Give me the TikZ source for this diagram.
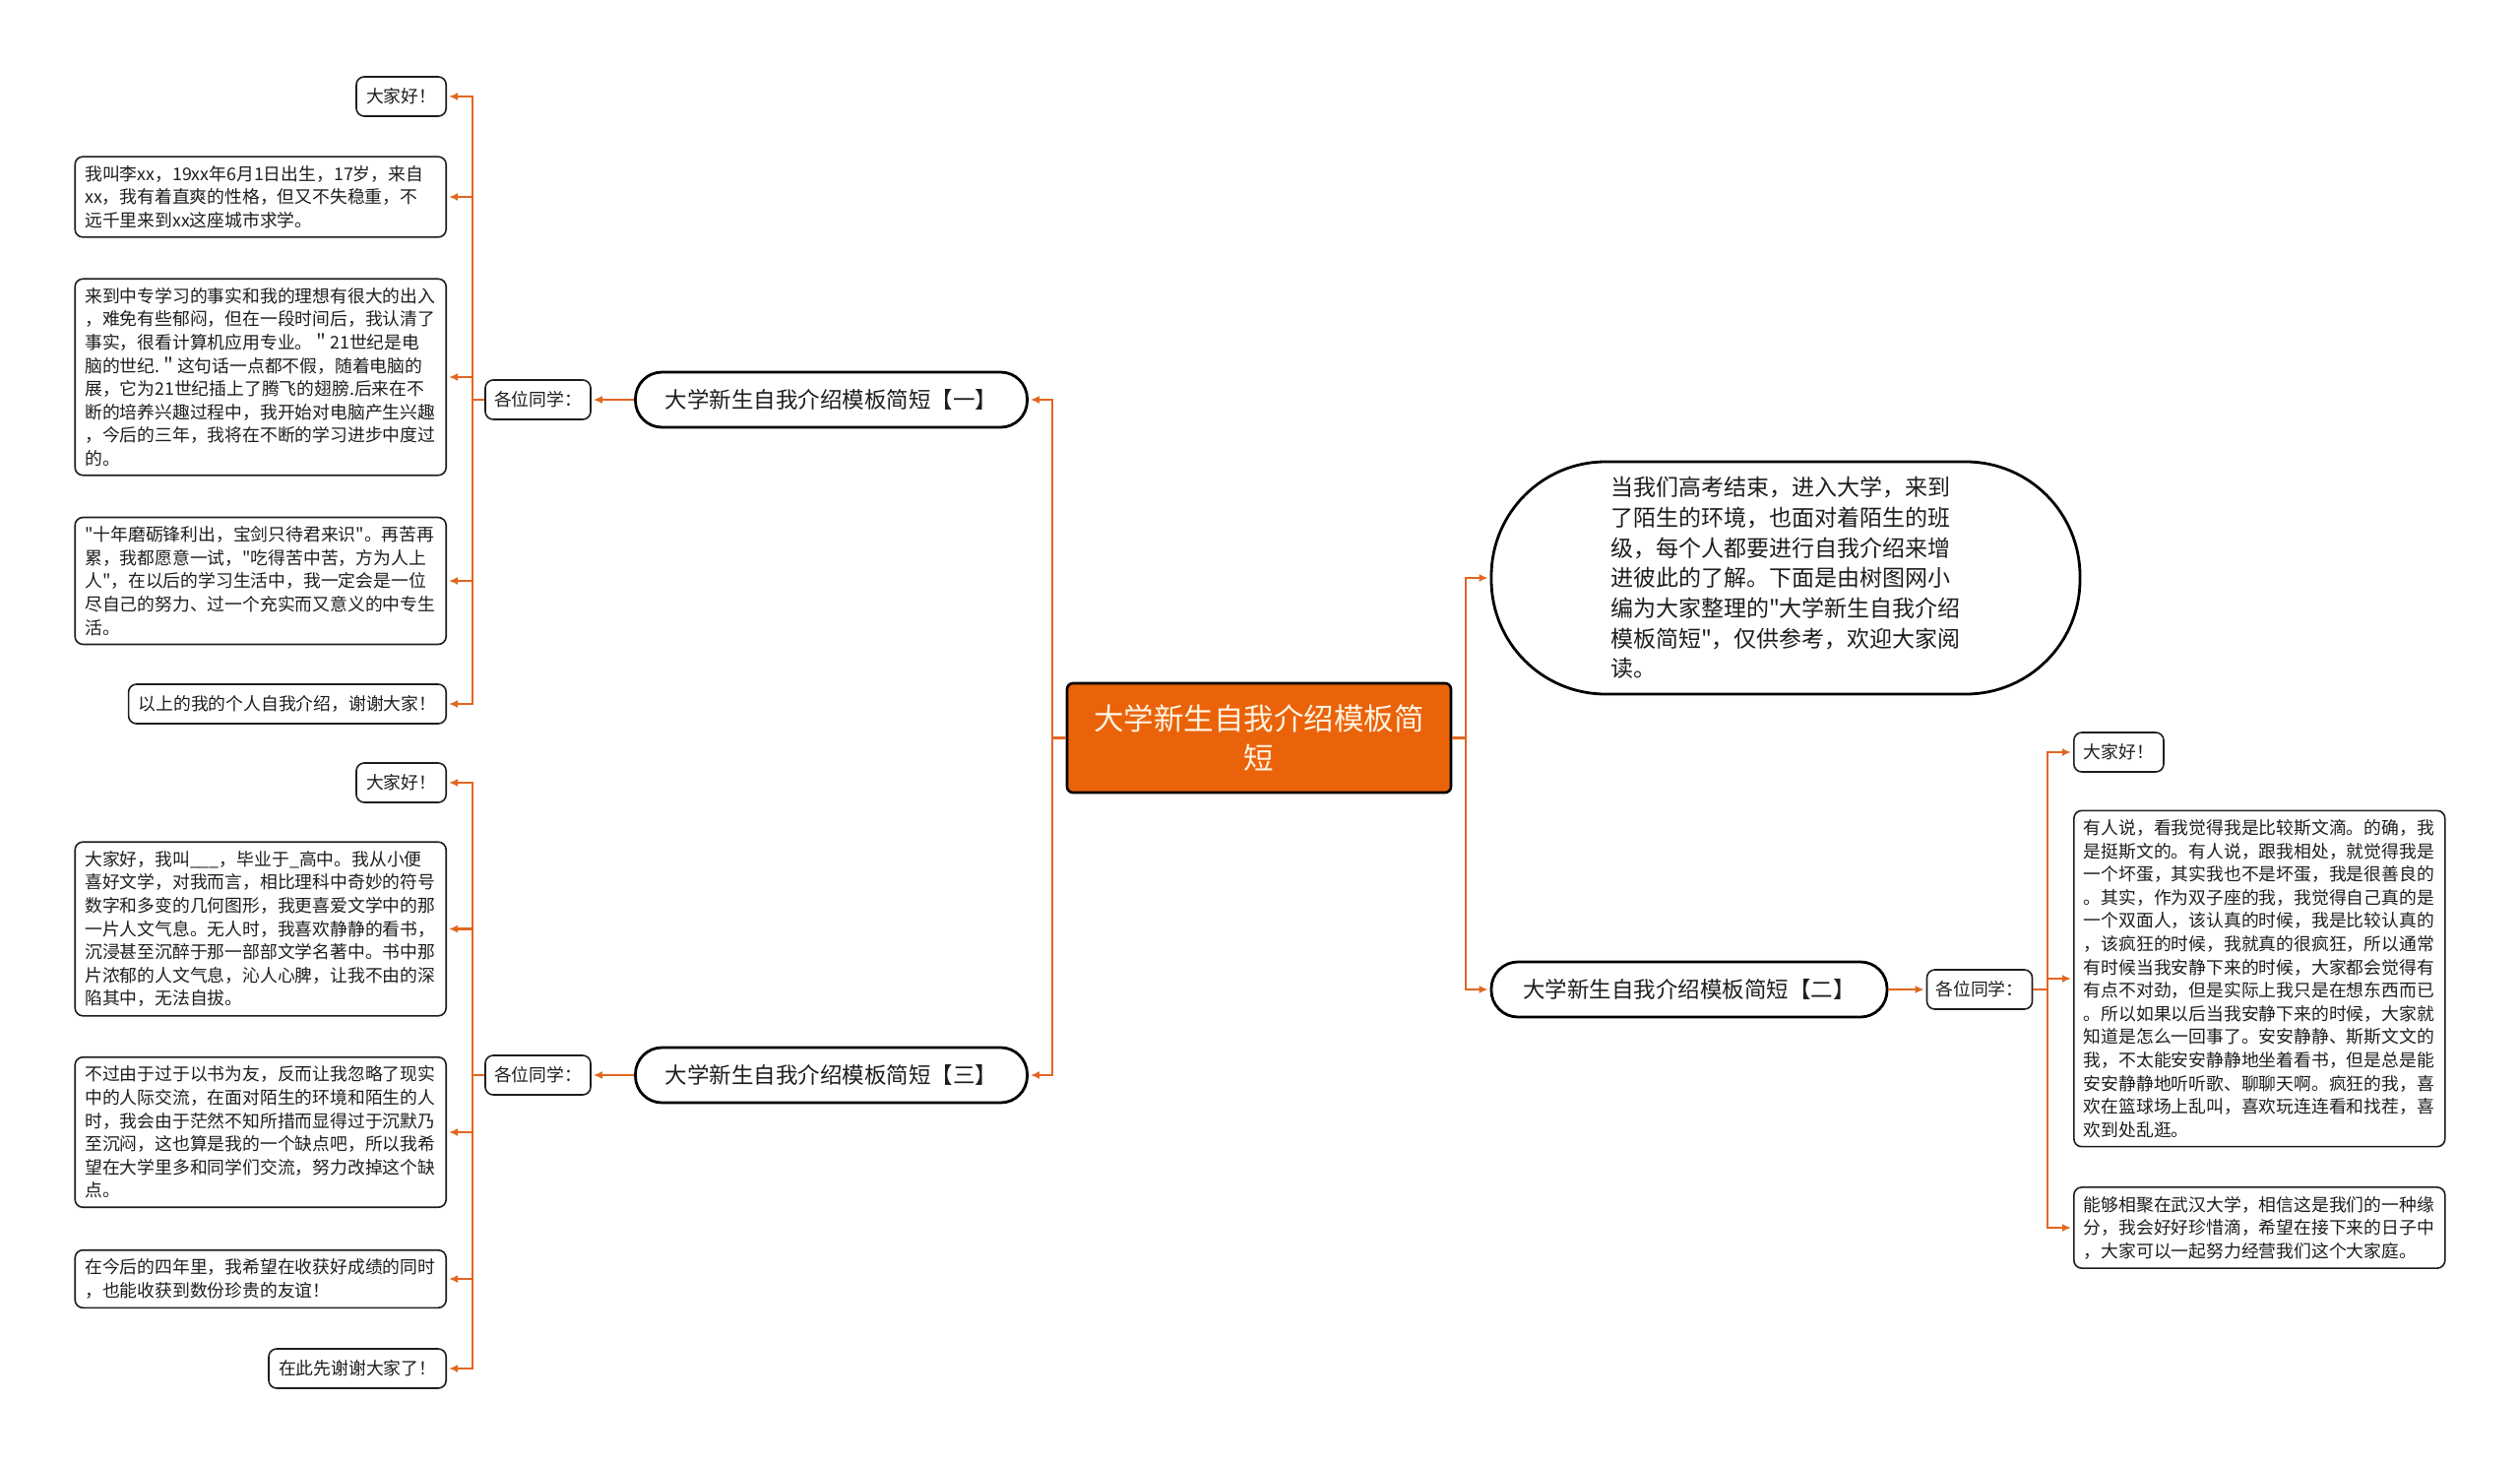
\documentclass[tikz,border=0pt]{standalone}
\usepackage{fontspec}
\newfontfamily\cjkfont{Noto Sans CJK SC}
\usetikzlibrary{arrows.meta}
\definecolor{linkc}{RGB}{226,103,33}
\definecolor{corefill}{RGB}{234,99,10}
\definecolor{coretext}{RGB}{255,243,225}
\definecolor{ink}{RGB}{30,30,30}
\begin{document}
\begin{tikzpicture}[x=1pt,y=-1pt,
  leafbox/.style={draw=ink, line width=1.6pt, rounded corners=8pt, fill=white, text=ink,
    font=\cjkfont\fontsize{17.8}{23.6}\selectfont, inner xsep=10pt, inner ysep=9pt, align=left},
  wideleaf/.style={leafbox, text width=357pt},
  tagbox/.style={leafbox, minimum height=40pt, inner xsep=9pt},
  branchbox/.style={draw=black, line width=2.8pt, rounded corners=27pt, fill=white, text=ink,
    font=\cjkfont\fontsize{22.5}{28}\selectfont, minimum width=398pt, minimum height=56pt, inner sep=0pt},
  ovalbox/.style={draw=black, line width=2.8pt, rounded corners=116pt, fill=white, text=ink,
    font=\cjkfont\fontsize{23}{30.7}\selectfont, minimum width=598pt, minimum height=236pt,
    text width=356pt, align=left},
  corebox/.style={draw=black, line width=2.6pt, rounded corners=6pt, fill=corefill, text=coretext,
    font=\cjkfont\fontsize{30.5}{40}\selectfont, minimum width=390pt, minimum height=111pt, align=center},
  link/.style={draw=linkc, line width=2.4pt},
  arr/.style={link, -{Latex[length=9pt,width=8pt]}, shorten >=2pt}
]
\path[use as bounding box] (0,0) rectangle (2560,1488);

% central
\node[corebox] (core) at (1279,749.5) {大学新生自我介绍模板简\\短};

% branches
\node[branchbox] (b1) at (844.5,406) {大学新生自我介绍模板简短【一】};
\node[branchbox] (b3) at (844.5,1092) {大学新生自我介绍模板简短【三】};
\node[ovalbox] (ov) at (1814,587) {当我们高考结束，进入大学，来到\\
了陌生的环境，也面对着陌生的班\\
级，每个人都要进行自我介绍来增\\
进彼此的了解。下面是由树图网小\\
编为大家整理的"大学新生自我介绍\\
模板简短"，仅供参考，欢迎大家阅\\
读。};
\node[branchbox, minimum width=402pt] (b2) at (1716,1005) {大学新生自我介绍模板简短【二】};

% tags
\node[tagbox] (g1) at (546.5,406) {各位同学：};
\node[tagbox] (g3) at (546.5,1092) {各位同学：};
\node[tagbox] (g2) at (2011,1005) {各位同学：};

% left leaves, branch 1
\node[leafbox, anchor=east, minimum height=40pt] (l1a) at (454,98) {大家好！};
\node[wideleaf, anchor=east] (l1b) at (454,200) {我叫李xx，19xx年6月1日出生，17岁，来自\\
xx，我有着直爽的性格，但又不失稳重，不\\
远千里来到xx这座城市求学。};
\node[wideleaf, anchor=east] (l1c) at (454,383) {来到中专学习的事实和我的理想有很大的出入\\
，难免有些郁闷，但在一段时间后，我认清了\\
事实，很看计算机应用专业。＂21世纪是电\\
脑的世纪.＂这句话一点都不假，随着电脑的\\
展，它为21世纪插上了腾飞的翅膀.后来在不\\
断的培养兴趣过程中，我开始对电脑产生兴趣\\
，今后的三年，我将在不断的学习进步中度过\\
的。};
\node[wideleaf, anchor=east] (l1d) at (454,590) {"十年磨砺锋利出，宝剑只待君来识"。再苦再\\
累，我都愿意一试，"吃得苦中苦，方为人上\\
人"，在以后的学习生活中，我一定会是一位\\
尽自己的努力、过一个充实而又意义的中专生\\
活。};
\node[leafbox, anchor=east, minimum height=40pt] (l1e) at (454,715) {以上的我的个人自我介绍，谢谢大家！};

% left leaves, branch 3
\node[leafbox, anchor=east, minimum height=40pt] (l3a) at (454,795) {大家好！};
\node[wideleaf, anchor=east] (l3b) at (454,943.5) {大家好，我叫\_\_\_，毕业于\_高中。我从小便\\
喜好文学，对我而言，相比理科中奇妙的符号\\
数字和多变的几何图形，我更喜爱文学中的那\\
一片人文气息。无人时，我喜欢静静的看书，\\
沉浸甚至沉醉于那一部部文学名著中。书中那\\
片浓郁的人文气息，沁人心脾，让我不由的深\\
陷其中，无法自拔。};
\node[wideleaf, anchor=east] (l3c) at (454,1150) {不过由于过于以书为友，反而让我忽略了现实\\
中的人际交流，在面对陌生的环境和陌生的人\\
时，我会由于茫然不知所措而显得过于沉默乃\\
至沉闷，这也算是我的一个缺点吧，所以我希\\
望在大学里多和同学们交流，努力改掉这个缺\\
点。};
\node[wideleaf, anchor=east] (l3d) at (454,1299) {在今后的四年里，我希望在收获好成绩的同时\\
，也能收获到数份珍贵的友谊！};
\node[leafbox, anchor=east, minimum height=40pt] (l3e) at (454,1390) {在此先谢谢大家了！};

% right leaves, branch 2
\node[leafbox, anchor=west, minimum height=40pt] (r2a) at (2106,764) {大家好！};
\node[wideleaf, anchor=west] (r2b) at (2106,994) {有人说，看我觉得我是比较斯文滴。的确，我\\
是挺斯文的。有人说，跟我相处，就觉得我是\\
一个坏蛋，其实我也不是坏蛋，我是很善良的\\
。其实，作为双子座的我，我觉得自己真的是\\
一个双面人，该认真的时候，我是比较认真的\\
，该疯狂的时候，我就真的很疯狂，所以通常\\
有时候当我安静下来的时候，大家都会觉得有\\
有点不对劲，但是实际上我只是在想东西而已\\
。所以如果以后当我安静下来的时候，大家就\\
知道是怎么一回事了。安安静静、斯斯文文的\\
我，不太能安安静静地坐着看书，但是总是能\\
安安静静地听听歌、聊聊天啊。疯狂的我，喜\\
欢在篮球场上乱叫，喜欢玩连连看和找茬，喜\\
欢到处乱逛。};
\node[wideleaf, anchor=west] (r2c) at (2106,1247) {能够相聚在武汉大学，相信这是我们的一种缘\\
分，我会好好珍惜滴，希望在接下来的日子中\\
，大家可以一起努力经营我们这个大家庭。};

% connectors: centre to branches
\coordinate (cL) at (1069,749.5);
\coordinate (cR) at (1489,749.5);
\draw[link] (core.west) -- (cL);
\draw[arr] (cL) |- (b1.east);
\draw[arr] (cL) |- (b3.east);
\draw[link] (core.east) -- (cR);
\draw[arr] (cR) |- (ov.west);
\draw[arr] (cR) |- (b2.west);

% branches to tags
\draw[arr] (b1.west) -- (g1.east);
\draw[arr] (b3.west) -- (g3.east);
\draw[arr] (b2.east) -- (g2.west);

% tags to leaves
\coordinate (t1) at (480,406);
\draw[link] (g1.west) -- (t1);
\foreach \n in {l1a,l1b,l1c,l1d,l1e} \draw[arr] (t1) |- (\n.east);
\coordinate (t3) at (480,1092);
\draw[link] (g3.west) -- (t3);
\foreach \n in {l3a,l3b,l3c,l3d,l3e} \draw[arr] (t3) |- (\n.east);
\coordinate (t2) at (2080,1005);
\draw[link] (g2.east) -- (t2);
\foreach \n in {r2a,r2b,r2c} \draw[arr] (t2) |- (\n.west);
\end{tikzpicture}
\end{document}
